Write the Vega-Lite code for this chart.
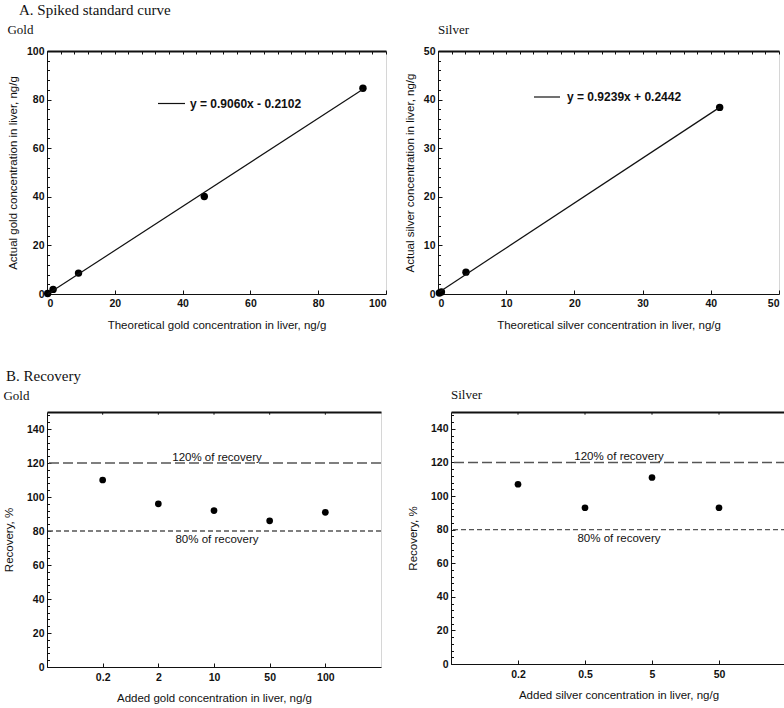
{
  "$schema": "https://vega.github.io/schema/vega-lite/v6.json",
  "background": "white",
  "padding": {"left": 2, "top": 2, "right": 0, "bottom": 0},
  "config": {
    "font": "Liberation Sans",
    "view": {"stroke": "#d6d6d6", "strokeWidth": 1},
    "axis": {
      "grid": false,
      "labelFont": "Liberation Sans",
      "labelFontWeight": "bold",
      "labelFontSize": 10.5,
      "labelColor": "#111",
      "titleFont": "Liberation Sans",
      "titleFontWeight": "normal",
      "titleFontSize": 11.5,
      "titleColor": "#111",
      "domainColor": "#111",
      "tickColor": "#111"
    }
  },
  "spacing": 37,
  "vconcat": [
    {
      "title": {"text": "A. Spiked standard curve", "anchor": "start", "frame": "bounds", "font": "Liberation Serif", "fontSize": 15, "fontWeight": "normal", "color": "#111", "dx": 12, "offset": 6},
      "spacing": 16,
      "resolve": {"scale": {"stroke": "independent"}, "legend": {"stroke": "independent"}},
      "hconcat": [
        {
          "width": 339,
          "height": 243,
          "title": {"text": "Gold", "anchor": "start", "frame": "bounds", "font": "Liberation Serif", "fontSize": 13, "fontWeight": "normal", "color": "#111", "offset": 9},
          "resolve": {"axis": {"x": "independent", "y": "independent"}},
          "layer": [
            {
              "data": {"values": [
                {"theoretical": 0.2, "actual": 0.2},
                {"theoretical": 1.8, "actual": 1.9},
                {"theoretical": 9.3, "actual": 8.6},
                {"theoretical": 46.4, "actual": 40.1},
                {"theoretical": 93.2, "actual": 84.7}
              ]},
              "mark": {"type": "circle", "size": 55, "color": "black", "opacity": 1},
              "encoding": {
                "x": {"field": "theoretical", "type": "quantitative", "scale": {"domain": [0, 100], "nice": false},
                  "axis": {"orient": "bottom", "title": "Theoretical gold concentration in liver, ng/g", "values": [0, 20, 40, 60, 80, 100], "tickSize": -4, "labelPadding": 8, "titlePadding": 11}},
                "y": {"field": "actual", "type": "quantitative", "scale": {"domain": [0, 100], "nice": false},
                  "axis": {"orient": "left", "title": "Actual gold concentration in liver, ng/g", "values": [0, 20, 40, 60, 80, 100], "tickSize": -4, "labelPadding": 7, "titlePadding": 8}}
              }
            },
            {
              "data": {"values": [
                {"theoretical": 0.2, "fitted": -0.03, "series": "y = 0.9060x - 0.2102"},
                {"theoretical": 93.2, "fitted": 84.23, "series": "y = 0.9060x - 0.2102"}
              ]},
              "mark": {"type": "line", "strokeWidth": 1.2},
              "encoding": {
                "x": {"field": "theoretical", "type": "quantitative", "scale": {"domain": [0, 100], "nice": false},
                  "axis": {"orient": "top", "title": null, "labels": false, "values": [0, 4, 8, 12, 16, 20, 24, 28, 32, 36, 40, 44, 48, 52, 56, 60, 64, 68, 72, 76, 80, 84, 88, 92, 96, 100], "tickSize": -3, "domainWidth": 2}},
                "y": {"field": "fitted", "type": "quantitative", "scale": {"domain": [0, 100], "nice": false},
                  "axis": {"orient": "left", "title": null, "labels": false, "domain": false, "values": [0, 4, 8, 12, 16, 20, 24, 28, 32, 36, 40, 44, 48, 52, 56, 60, 64, 68, 72, 76, 80, 84, 88, 92, 96, 100], "tickSize": -2.5}},
                "stroke": {"field": "series", "type": "nominal", "scale": {"range": ["#111"]},
                  "legend": {"orient": "none", "legendX": 110, "legendY": 38, "title": null, "symbolType": "stroke", "symbolSize": 729, "symbolStrokeWidth": 1.2, "labelFont": "Liberation Sans", "labelFontSize": 12, "labelFontWeight": "bold", "labelColor": "#111", "labelOffset": 4, "padding": 0}}
              }
            }
          ]
        },
        {
          "width": 341,
          "height": 243,
          "title": {"text": "Silver", "anchor": "start", "frame": "group", "font": "Liberation Serif", "fontSize": 13, "fontWeight": "normal", "color": "#111", "offset": 9},
          "resolve": {"axis": {"x": "independent", "y": "independent"}},
          "layer": [
            {
              "data": {"values": [
                {"theoretical": 0.2, "actual": 0.2},
                {"theoretical": 0.5, "actual": 0.4},
                {"theoretical": 4.1, "actual": 4.5},
                {"theoretical": 41.3, "actual": 38.4}
              ]},
              "mark": {"type": "circle", "size": 55, "color": "black", "opacity": 1},
              "encoding": {
                "x": {"field": "theoretical", "type": "quantitative", "scale": {"domain": [0, 50], "nice": false},
                  "axis": {"orient": "bottom", "title": "Theoretical silver concentration in liver, ng/g", "values": [0, 10, 20, 30, 40, 50], "labelFlush": true, "tickSize": -4, "labelPadding": 8, "titlePadding": 11}},
                "y": {"field": "actual", "type": "quantitative", "scale": {"domain": [0, 50], "nice": false},
                  "axis": {"orient": "left", "title": "Actual silver concentration in liver, ng/g", "values": [0, 10, 20, 30, 40, 50], "tickSize": -4, "labelPadding": 7, "titlePadding": 8}}
              }
            },
            {
              "data": {"values": [
                {"theoretical": 0.2, "fitted": 0.43, "series": "y = 0.9239x + 0.2442"},
                {"theoretical": 41.3, "fitted": 38.4, "series": "y = 0.9239x + 0.2442"}
              ]},
              "mark": {"type": "line", "strokeWidth": 1.2},
              "encoding": {
                "x": {"field": "theoretical", "type": "quantitative", "scale": {"domain": [0, 50], "nice": false},
                  "axis": {"orient": "top", "title": null, "labels": false, "values": [0, 2, 4, 6, 8, 10, 12, 14, 16, 18, 20, 22, 24, 26, 28, 30, 32, 34, 36, 38, 40, 42, 44, 46, 48, 50], "tickSize": -3, "domainWidth": 2}},
                "y": {"field": "fitted", "type": "quantitative", "scale": {"domain": [0, 50], "nice": false},
                  "axis": {"orient": "left", "title": null, "labels": false, "domain": false, "values": [0, 2, 4, 6, 8, 10, 12, 14, 16, 18, 20, 22, 24, 26, 28, 30, 32, 34, 36, 38, 40, 42, 44, 46, 48, 50], "tickSize": -2.5}},
                "stroke": {"field": "series", "type": "nominal", "scale": {"range": ["#111"]},
                  "legend": {"orient": "none", "legendX": 95, "legendY": 32, "title": null, "symbolType": "stroke", "symbolSize": 676, "symbolStrokeWidth": 1.2, "labelFont": "Liberation Sans", "labelFontSize": 12, "labelFontWeight": "bold", "labelColor": "#111", "labelOffset": 6, "padding": 0}}
              }
            }
          ]
        }
      ]
    },
    {
      "title": {"text": "B. Recovery", "anchor": "start", "frame": "bounds", "font": "Liberation Serif", "fontSize": 15, "fontWeight": "normal", "color": "#111", "dx": 3, "offset": 4},
      "spacing": 23,
      "hconcat": [
        {
          "width": 334,
          "height": 255,
          "title": {"text": "Gold", "anchor": "start", "frame": "bounds", "font": "Liberation Serif", "fontSize": 13, "fontWeight": "normal", "color": "#111", "offset": 9},
          "resolve": {"axis": {"x": "independent", "y": "independent"}},
          "layer": [
            {
              "data": {"values": [
                {"added": "0.2", "recovery": 110},
                {"added": "2", "recovery": 96},
                {"added": "10", "recovery": 92},
                {"added": "50", "recovery": 86},
                {"added": "100", "recovery": 91}
              ]},
              "mark": {"type": "circle", "size": 45, "color": "black", "opacity": 1},
              "encoding": {
                "x": {"field": "added", "type": "ordinal", "sort": null, "scale": {"type": "point", "padding": 1, "domain": ["0.2", "2", "10", "50", "100"]},
                  "axis": {"orient": "bottom", "title": "Added gold concentration in liver, ng/g", "labelAngle": 0, "tickSize": -4, "labelPadding": 9, "titlePadding": 10}},
                "y": {"field": "recovery", "type": "quantitative", "scale": {"domain": [0, 150], "nice": false},
                  "axis": {"orient": "left", "title": "Recovery, %", "values": [0, 20, 40, 60, 80, 100, 120, 140], "tickSize": -4, "labelPadding": 7, "titlePadding": 12}}
              }
            },
            {
              "data": {"values": [
                {"added": "0.2"}, {"added": "2"}, {"added": "10"}, {"added": "50"}, {"added": "100"}
              ]},
              "mark": {"type": "rule", "color": "#111", "strokeWidth": 1},
              "encoding": {
                "x": {"field": "added", "type": "ordinal", "sort": null,
                  "axis": {"orient": "top", "title": null, "labels": false, "ticks": false, "domainWidth": 2}},
                "y": {"datum": 150, "type": "quantitative",
                  "axis": {"orient": "left", "title": null, "labels": false, "domain": false, "values": [0, 4, 8, 12, 16, 20, 24, 28, 32, 36, 40, 44, 48, 52, 56, 60, 64, 68, 72, 76, 80, 84, 88, 92, 96, 100, 104, 108, 112, 116, 120, 124, 128, 132, 136, 140, 144, 148], "tickSize": -2.5}},
                "y2": {"datum": 148.4}
              }
            },
            {
              "data": {"values": [{"level": 120}]},
              "mark": {"type": "rule", "color": "#555", "strokeWidth": 1.5, "strokeDash": [10, 4]},
              "encoding": {"y": {"field": "level", "type": "quantitative", "axis": null}}
            },
            {
              "data": {"values": [{"level": 80}]},
              "mark": {"type": "rule", "color": "#555", "strokeWidth": 1.3, "strokeDash": [5, 3]},
              "encoding": {"y": {"field": "level", "type": "quantitative", "axis": null}}
            },
            {
              "data": {"values": [{"level": 120, "label": "120% of recovery", "at": "10"}]},
              "mark": {"type": "text", "font": "Liberation Sans", "fontSize": 11.5, "color": "#111", "baseline": "alphabetic", "dy": -2, "dx": 3},
              "encoding": {"x": {"field": "at", "type": "ordinal", "sort": null, "axis": null}, "y": {"field": "level", "type": "quantitative", "axis": null}, "text": {"field": "label"}}
            },
            {
              "data": {"values": [{"level": 80, "label": "80% of recovery", "at": "10"}]},
              "mark": {"type": "text", "font": "Liberation Sans", "fontSize": 11.5, "color": "#111", "baseline": "top", "dy": 3, "dx": 3},
              "encoding": {"x": {"field": "at", "type": "ordinal", "sort": null, "axis": null}, "y": {"field": "level", "type": "quantitative", "axis": null}, "text": {"field": "label"}}
            }
          ]
        },
        {
          "width": 335,
          "height": 252,
          "title": {"text": "Silver", "anchor": "start", "frame": "group", "font": "Liberation Serif", "fontSize": 13, "fontWeight": "normal", "color": "#111", "offset": 10},
          "resolve": {"axis": {"x": "independent", "y": "independent"}},
          "layer": [
            {
              "data": {"values": [
                {"added": "0.2", "recovery": 107},
                {"added": "0.5", "recovery": 93},
                {"added": "5", "recovery": 111},
                {"added": "50", "recovery": 93}
              ]},
              "mark": {"type": "circle", "size": 45, "color": "black", "opacity": 1},
              "encoding": {
                "x": {"field": "added", "type": "ordinal", "sort": null, "scale": {"type": "point", "padding": 1, "domain": ["0.2", "0.5", "5", "50"]},
                  "axis": {"orient": "bottom", "title": "Added silver concentration in liver, ng/g", "labelAngle": 0, "tickSize": -4, "labelPadding": 9, "titlePadding": 10}},
                "y": {"field": "recovery", "type": "quantitative", "scale": {"domain": [0, 150], "nice": false},
                  "axis": {"orient": "left", "title": "Recovery, %", "values": [0, 20, 40, 60, 80, 100, 120, 140], "tickSize": -4, "labelPadding": 7, "titlePadding": 12}}
              }
            },
            {
              "data": {"values": [
                {"added": "0.2"}, {"added": "0.5"}, {"added": "5"}, {"added": "50"}
              ]},
              "mark": {"type": "rule", "color": "#111", "strokeWidth": 1},
              "encoding": {
                "x": {"field": "added", "type": "ordinal", "sort": null,
                  "axis": {"orient": "top", "title": null, "labels": false, "ticks": false, "domainWidth": 2}},
                "y": {"datum": 150, "type": "quantitative",
                  "axis": {"orient": "left", "title": null, "labels": false, "domain": false, "values": [0, 4, 8, 12, 16, 20, 24, 28, 32, 36, 40, 44, 48, 52, 56, 60, 64, 68, 72, 76, 80, 84, 88, 92, 96, 100, 104, 108, 112, 116, 120, 124, 128, 132, 136, 140, 144, 148], "tickSize": -2.5}},
                "y2": {"datum": 148.4}
              }
            },
            {
              "data": {"values": [{"level": 120}]},
              "mark": {"type": "rule", "color": "#555", "strokeWidth": 1.5, "strokeDash": [10, 4]},
              "encoding": {"y": {"field": "level", "type": "quantitative", "axis": null}}
            },
            {
              "data": {"values": [{"level": 80}]},
              "mark": {"type": "rule", "color": "#555", "strokeWidth": 1.3, "strokeDash": [5, 3]},
              "encoding": {"y": {"field": "level", "type": "quantitative", "axis": null}}
            },
            {
              "data": {"values": [{"level": 120, "label": "120% of recovery", "at": "0.5"}]},
              "mark": {"type": "text", "font": "Liberation Sans", "fontSize": 11.5, "color": "#111", "baseline": "alphabetic", "dy": -2, "dx": 34},
              "encoding": {"x": {"field": "at", "type": "ordinal", "sort": null, "axis": null}, "y": {"field": "level", "type": "quantitative", "axis": null}, "text": {"field": "label"}}
            },
            {
              "data": {"values": [{"level": 80, "label": "80% of recovery", "at": "0.5"}]},
              "mark": {"type": "text", "font": "Liberation Sans", "fontSize": 11.5, "color": "#111", "baseline": "top", "dy": 3, "dx": 34},
              "encoding": {"x": {"field": "at", "type": "ordinal", "sort": null, "axis": null}, "y": {"field": "level", "type": "quantitative", "axis": null}, "text": {"field": "label"}}
            }
          ]
        }
      ]
    }
  ]
}
